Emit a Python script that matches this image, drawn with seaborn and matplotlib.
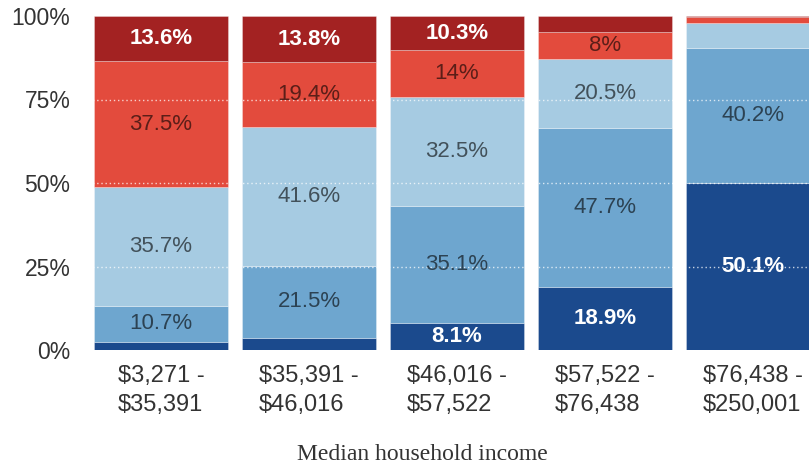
import matplotlib
matplotlib.use("Agg")
import matplotlib.pyplot as plt
import seaborn as sns
import numpy as np
import pandas as pd

categories = ["$3,271 -\n$35,391", "$35,391 -\n$46,016", "$46,016 -\n$57,522",
              "$57,522 -\n$76,438", "$76,438 -\n$250,001"]
dark_blue = [2.5, 3.7, 8.1, 18.9, 50.1]
mid_blue = [10.7, 21.5, 35.1, 47.7, 40.2]
light_blue = [35.7, 41.6, 32.5, 20.5, 7.6]
red = [37.5, 19.4, 14.0, 8.0, 1.7]
dark_red = [13.6, 13.8, 10.3, 4.9, 0.4]
y_ticks = [0, 25, 50, 75, 100]
y_tick_labels = ["0%", "25%", "50%", "75%", "100%"]
x_label = "Median household income"

layers = [dark_blue, mid_blue, light_blue, red, dark_red]
colors = ["#1b4a8d", "#6ea6cf", "#a6cbe2", "#e34b3d", "#a32222"]
white_text = [True, False, False, False, True]

sns.set_theme(style="white")
plt.rcParams["font.family"] = ["Liberation Sans", "DejaVu Sans"]

fig = plt.figure(figsize=(8.09, 4.70), dpi=100)
W, H = 809, 470
ax = fig.add_axes([80 / W, (H - 350) / H, (809 - 80) / W, (350 - 16) / H])

bottom = np.zeros(len(categories))
for vals, col, wt in zip(layers, colors, white_text):
    df = pd.DataFrame({"cat": categories, "val": vals})
    sns.barplot(data=df, x="cat", y="val", color=col, saturation=1, width=0.9,
                errorbar=None, bottom=bottom, ax=ax, edgecolor=(1, 1, 1, 0.35),
                linewidth=0.6)
    for i, v in enumerate(vals):
        if v >= 8:
            if wt:
                ax.text(i, bottom[i] + v / 2, f"{v:g}%", ha="center", va="center",
                        color="white", fontsize=16, fontweight="bold", zorder=6)
            else:
                ax.text(i, bottom[i] + v / 2, f"{v:g}%", ha="center", va="center",
                        color=(0, 0, 0, 0.6), fontsize=16, zorder=6)
    bottom = bottom + np.array(vals)

for t in y_ticks[1:-1]:
    ax.axhline(t, color="white", linestyle=(0, (1, 2)), linewidth=1, alpha=0.75, zorder=5)

ax.set_ylim(0, 100)
ax.set_xlim(-0.547, 4.378)
ax.set_yticks(y_ticks)
ax.set_yticklabels(y_tick_labels)
ax.tick_params(axis="both", length=0, labelcolor="#333333")
ax.tick_params(axis="y", pad=7, labelsize=16.5)
ax.tick_params(axis="x", pad=11, labelsize=17)
for lab in ax.get_xticklabels():
    lab.set_multialignment("left")
    lab.set_linespacing(1.38)
ax.set_xlabel("")
ax.set_ylabel("")
for s in ax.spines.values():
    s.set_visible(False)

fig.text(422 / W, 1 - 455 / H, x_label, ha="center", va="center",
         fontsize=17, color="#333333", family=["Liberation Serif", "DejaVu Serif"])

fig.savefig("out.png", dpi=100)
